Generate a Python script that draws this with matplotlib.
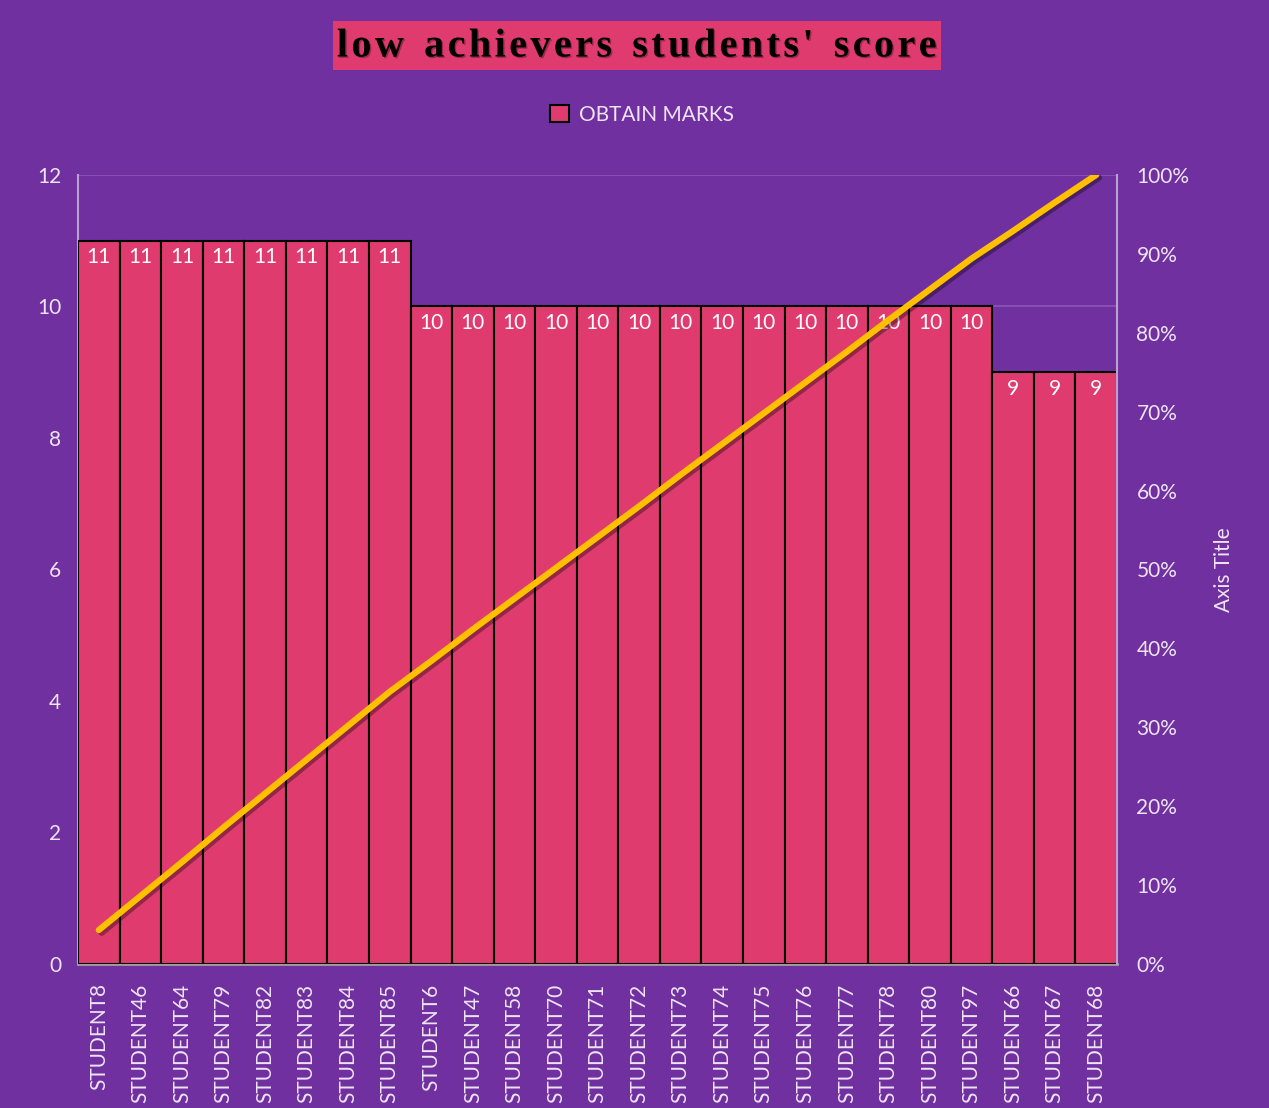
import matplotlib.pyplot as plt
import matplotlib.patheffects as pe
from matplotlib.patches import Rectangle, Patch

# data
students = ['STUDENT8', 'STUDENT46', 'STUDENT64', 'STUDENT79', 'STUDENT82',
            'STUDENT83', 'STUDENT84', 'STUDENT85', 'STUDENT6', 'STUDENT47',
            'STUDENT58', 'STUDENT70', 'STUDENT71', 'STUDENT72', 'STUDENT73',
            'STUDENT74', 'STUDENT75', 'STUDENT76', 'STUDENT77', 'STUDENT78',
            'STUDENT80', 'STUDENT97', 'STUDENT66', 'STUDENT67', 'STUDENT68']
marks = [11, 11, 11, 11, 11, 11, 11, 11,
         10, 10, 10, 10, 10, 10, 10, 10, 10, 10, 10, 10, 10, 10,
         9, 9, 9]
cum_pct = [4.3, 8.6, 12.9, 17.3, 21.6, 25.9, 30.2, 34.5,
           38.4, 42.4, 46.3, 50.2, 54.1, 58.0, 62.0, 65.9, 69.8, 73.7,
           77.6, 81.6, 85.5, 89.4, 92.9, 96.5, 100.0]
title = "low achievers students' score"

bg = '#7030A0'
bar_color = '#E03B6F'
txt = '#EDE4F3'
font = 'Lato'

fig = plt.figure(figsize=(12.69, 11.08), dpi=100)
fig.patch.set_facecolor(bg)
ax = fig.add_axes([0.0615, 0.1300, 0.8187, 0.7121])
ax.set_facecolor(bg)

x = range(len(students))
ax.bar(x, marks, width=1.0, color=bar_color, edgecolor='black',
       linewidth=1.5, zorder=3)
for i, v in enumerate(marks):
    ax.text(i, v - 0.25, str(v), ha='center', va='center', color='white',
            fontsize=15, family=font, zorder=4)

ax.set_xlim(-0.5, len(students) - 0.5)
ax.set_ylim(0, 12)
ax.set_yticks(range(0, 13, 2))
ax.yaxis.grid(True, color='#8A56B8', linewidth=1.2, zorder=0)
ax.set_axisbelow(True)
ax.tick_params(length=0, colors=txt, labelsize=15)
ax.set_xticks(list(x))
ax.set_xticklabels(students, rotation=90, family=font, fontsize=15, color=txt)
for lab in ax.get_yticklabels():
    lab.set_family(font)
ax.tick_params(axis='x', pad=14)
ax.tick_params(axis='y', pad=12)

ax.spines['top'].set_visible(False)
ax.spines['left'].set_color('#B9A2D0')
ax.spines['left'].set_linewidth(1.5)
ax.spines['bottom'].set_color('#9E9E9E')
ax.spines['bottom'].set_linewidth(2)
ax.spines['right'].set_visible(False)

ax2 = ax.twinx()
ax2.set_ylim(0, 100)
ax2.set_yticks(range(0, 101, 10))
ax2.set_yticklabels([f'{t}%' for t in range(0, 101, 10)], family=font,
                    fontsize=15, color=txt)
ax2.tick_params(length=0, pad=14)
for s in ['top', 'left', 'bottom']:
    ax2.spines[s].set_visible(False)
ax2.spines['right'].set_color('#B9A2D0')
ax2.spines['right'].set_linewidth(1.5)
ax2.plot(list(x), cum_pct, color='#FFC000', linewidth=4.5,
         solid_capstyle='round', zorder=5,
         path_effects=[pe.SimpleLineShadow(offset=(2, -2), shadow_color='black', alpha=0.35),
                       pe.Normal()])
ax2.set_ylabel('Axis Title', color=txt, fontsize=15, family=font, labelpad=18)

# title with pink box, letters spaced out
fig.patches.append(Rectangle((333 / 1269, 1 - 70 / 1108), 608 / 1269, 49 / 1108,
                             transform=fig.transFigure, facecolor=bar_color,
                             edgecolor='none'))
spaced = '  '.join('\u200a'.join(w) for w in title.split(' '))
fig.text(637 / 1269, 1 - 47 / 1108, spaced,
         ha='center', va='center', fontsize=29, fontweight='bold',
         family='Liberation Serif', color='black',
         path_effects=[pe.withSimplePatchShadow(offset=(1, -1), alpha=0.3)])

leg = fig.legend(handles=[Patch(facecolor=bar_color, edgecolor='black', linewidth=1.5)],
                 labels=['OBTAIN MARKS'], loc='center',
                 bbox_to_anchor=(642 / 1269, 1 - 115 / 1108), frameon=False,
                 prop={'family': font, 'size': 15}, handlelength=0.9,
                 handleheight=0.9, handletextpad=0.5)
for t in leg.get_texts():
    t.set_color(txt)

fig.savefig('out.png', dpi=100, facecolor=bg)
